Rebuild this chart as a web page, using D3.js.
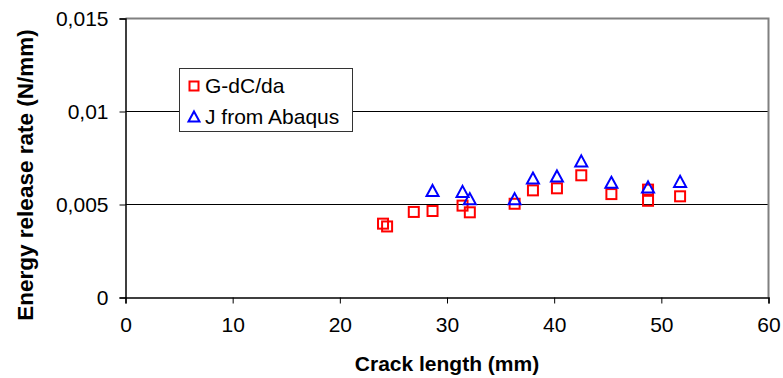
<!DOCTYPE html>
<html>
<head>
<meta charset="utf-8">
<script src="https://cdn.jsdelivr.net/npm/d3@7"></script>
<style>
  html, body { margin: 0; padding: 0; background: #fff; }
  svg { display: block; }
  text { font-family: "Liberation Sans", Arial, sans-serif; }
</style>
</head>
<body>
<svg id="chart" width="783" height="378"></svg>
<script>
// ---- Data ----
const gX = [24.03, 24.41, 26.9, 28.65, 31.45, 32.13, 36.31, 38.02, 40.26, 42.53, 45.34, 48.76, 48.76, 51.75];
const gY = [0.00397, 0.00382, 0.0046, 0.00465, 0.00494, 0.00458, 0.00504, 0.00576, 0.00587, 0.00657, 0.00556, 0.0058, 0.0052, 0.00544];
const jX = [28.65, 31.45, 32.13, 36.31, 38.02, 40.26, 42.53, 45.34, 48.76, 51.75];
const jY = [0.0057, 0.00565, 0.00526, 0.00526, 0.00637, 0.00648, 0.00729, 0.00614, 0.00589, 0.00619];
const xTicks = [0, 10, 20, 30, 40, 50, 60];
const yTicks = [0, 0.005, 0.01, 0.015];
const yTickLabels = ["0", "0,005", "0,01", "0,015"];
const seriesNames = ["G-dC/da", "J from Abaqus"];
const xTitle = "Crack length (mm)";
const yTitle = "Energy release rate (N/mm)";

// ---- Layout ----
const svg = d3.select("#chart");
const x = d3.scaleLinear().domain([0, 60]).range([125.5, 768.5]);
const y = d3.scaleLinear().domain([0, 0.015]).range([297.5, 18.5]);
const FS = 21;

// gridlines
svg.append("g").selectAll("line").data(yTicks.filter(d => d > 0 && d < 0.015)).join("line")
  .attr("x1", x(0)).attr("x2", x(60))
  .attr("y1", d => Math.round(y(d)) + 0.5).attr("y2", d => Math.round(y(d)) + 0.5)
  .attr("stroke", "#000").attr("stroke-width", 1);

// plot border top & right (gray)
svg.append("path")
  .attr("d", `M${x(0)},${y(0.015)}H${x(60)}V${y(0)}`)
  .attr("fill", "none").attr("stroke", "#808080").attr("stroke-width", 2);

// y axis
const yAxis = d3.axisLeft(y).tickValues(yTicks).tickSize(6).tickPadding(11)
  .tickFormat((d, i) => yTickLabels[i]);
const gy = svg.append("g").attr("transform", `translate(${x(0)},0)`).call(yAxis);
gy.select(".domain").attr("stroke", "#000").attr("stroke-width", 1.5);
gy.selectAll(".tick line").attr("stroke", "#000").attr("stroke-width", 1);
gy.selectAll(".tick text").attr("font-size", FS).attr("fill", "#000")
  .attr("font-family", "Liberation Sans, Arial, sans-serif");

// x axis
const xAxis = d3.axisBottom(x).tickValues(xTicks).tickSize(6).tickPadding(14)
  .tickFormat(d3.format("d"));
const gx = svg.append("g").attr("transform", `translate(0,${y(0)})`).call(xAxis);
gx.select(".domain").attr("stroke", "#000").attr("stroke-width", 1.5);
gx.selectAll(".tick line").attr("stroke", "#000").attr("stroke-width", 1);
gx.selectAll(".tick text").attr("font-size", FS).attr("fill", "#000")
  .attr("font-family", "Liberation Sans, Arial, sans-serif");

// axis titles
svg.append("text").attr("x", (x(0) + x(60)) / 2).attr("y", 371)
  .attr("text-anchor", "middle").attr("font-size", FS).attr("font-weight", "bold")
  .text(xTitle);
svg.append("text").attr("transform", `translate(33,${175}) rotate(-90)`)
  .attr("text-anchor", "middle").attr("font-size", 22.5).attr("font-weight", "bold")
  .text(yTitle);

// markers
const sq = 10, tri = 12;
function triPath(cx, cy, s) {
  const h = s * 0.92;
  return `M${cx},${cy - h / 2 - 1}L${cx + s / 2},${cy + h / 2 - 1}L${cx - s / 2},${cy + h / 2 - 1}Z`;
}
svg.append("g").selectAll("rect").data(gX.map((d, i) => [d, gY[i]])).join("rect")
  .attr("x", d => x(d[0]) - sq / 2).attr("y", d => y(d[1]) - sq / 2)
  .attr("width", sq).attr("height", sq)
  .attr("fill", "none").attr("stroke", "#ff0000").attr("stroke-width", 2);
svg.append("g").selectAll("path").data(jX.map((d, i) => [d, jY[i]])).join("path")
  .attr("d", d => triPath(x(d[0]), y(d[1]), tri))
  .attr("fill", "none").attr("stroke", "#0000ff").attr("stroke-width", 2);

// legend
const lg = svg.append("g");
lg.append("rect").attr("x", 179.5).attr("y", 68.5).attr("width", 173).attr("height", 63)
  .attr("fill", "#fff").attr("stroke", "#333").attr("stroke-width", 1);
lg.append("rect").attr("x", 194 - 4.5).attr("y", 86 - 4.5).attr("width", 9).attr("height", 9)
  .attr("fill", "none").attr("stroke", "#ff0000").attr("stroke-width", 2);
lg.append("path").attr("d", triPath(194, 117.5, 11))
  .attr("fill", "none").attr("stroke", "#0000ff").attr("stroke-width", 2);
lg.append("text").attr("x", 205).attr("y", 92.5).attr("font-size", FS).text(seriesNames[0]);
lg.append("text").attr("x", 205).attr("y", 123.5).attr("font-size", FS).text(seriesNames[1]);
</script>
</body>
</html>
